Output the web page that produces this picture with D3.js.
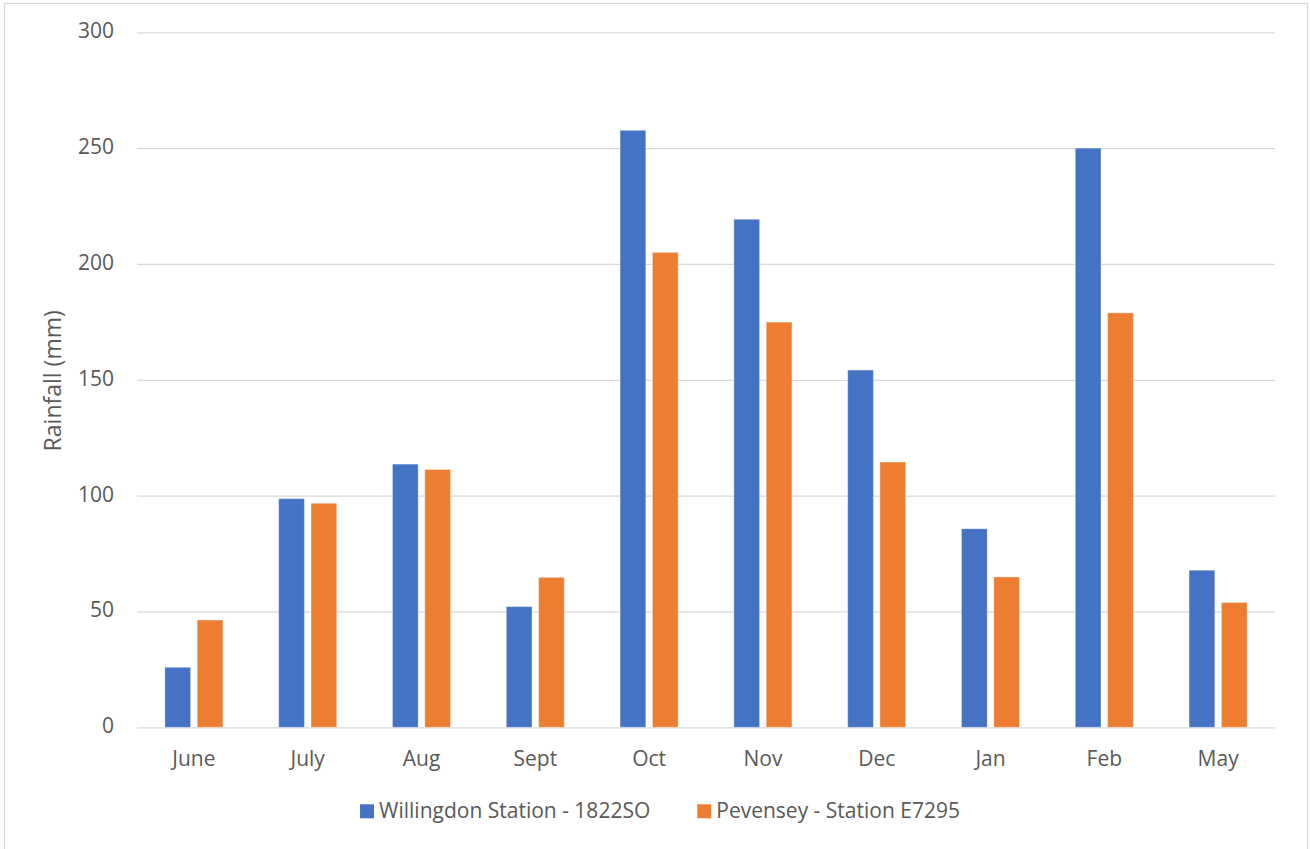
<!DOCTYPE html>
<html>
<head>
<meta charset="utf-8">
<script src="https://cdn.jsdelivr.net/npm/d3@7"></script>
<style>
  html, body { margin: 0; padding: 0; background: #fff; }
  svg { display: block; font-family: "Open Sans", sans-serif; }
</style>
</head>
<body>
<svg id="chart" width="1310" height="849"></svg>
<script>
// Monthly rainfall at two stations
const months = ["June", "July", "Aug", "Sept", "Oct", "Nov", "Dec", "Jan", "Feb", "May"];
const willingdon = [25.9, 98.7, 113.6, 52.1, 257.7, 219.3, 154.2, 85.7, 250.0, 67.8];
const pevensey   = [46.3, 96.7, 111.3, 64.7, 205.0, 174.9, 114.5, 64.9, 178.9, 53.9];
const seriesNames = ["Willingdon Station - 1822SO", "Pevensey - Station E7295"];
const seriesColors = ["#4472C4", "#ED7D31"];
const yTicks = [0, 50, 100, 150, 200, 250, 300];
const yTitle = "Rainfall (mm)";

const svg = d3.select("#chart");
const W = 1310, H = 849;
const plot = { left: 137, right: 1275, top: 32.3, bottom: 727.3 };
const textColor = "#595959";
const gridColor = "#d9d9d9";

// outer chart frame
svg.append("rect")
  .attr("x", 4.5).attr("y", 3.5)
  .attr("width", 1303).attr("height", H + 10)
  .attr("fill", "#fff").attr("stroke", gridColor).attr("stroke-width", 1.3);

const x = d3.scaleBand().domain(months).range([plot.left, plot.right]).paddingInner(0).paddingOuter(0);
const y = d3.scaleLinear().domain([0, 300]).range([plot.bottom, plot.top]);

// horizontal gridlines + value labels
const yAxis = d3.axisLeft(y).tickValues(yTicks).tickSize(-(plot.right - plot.left)).tickPadding(0);
const gy = svg.append("g").attr("transform", `translate(${plot.left},0)`).call(yAxis);
gy.select(".domain").remove();
gy.selectAll(".tick line").attr("stroke", gridColor).attr("stroke-width", 1.3);
gy.selectAll(".tick text")
  .attr("x", -23).attr("dy", "0.26em")
  .attr("fill", textColor)
  .style("font-size", "21px")
  .style("font-family", "'Open Sans', sans-serif");

// category labels
const xAxis = d3.axisBottom(x).tickSize(0).tickPadding(0);
const gx = svg.append("g").attr("transform", `translate(0,${plot.bottom})`).call(xAxis);
gx.select(".domain").remove();
gx.selectAll(".tick text")
  .attr("y", 0).attr("dy", 0)
  .attr("transform", "translate(0,38.7)")
  .attr("fill", textColor)
  .style("font-size", "21px")
  .style("font-family", "'Open Sans', sans-serif");

// clustered bars
const step = x.bandwidth();
const barW = step * 0.226;
const innerGap = step * 0.058;
const groupOffset = (step - (2 * barW + innerGap)) / 2;
const seriesData = [willingdon, pevensey];

seriesData.forEach((vals, si) => {
  svg.append("g").selectAll("rect")
    .data(vals)
    .join("rect")
    .attr("x", (d, i) => x(months[i]) + groupOffset + si * (barW + innerGap))
    .attr("y", d => y(d))
    .attr("width", barW)
    .attr("height", d => y(0) - y(d))
    .attr("fill", seriesColors[si])
    .attr("stroke", "rgba(255,255,255,0.35)")
    .attr("stroke-width", 1);
});

// axis title
svg.append("text")
  .attr("transform", `translate(61,${(plot.top + plot.bottom) / 2 + 1}) rotate(-90)`)
  .attr("text-anchor", "middle")
  .attr("fill", textColor)
  .style("font-size", "23px")
  .text(yTitle);

// legend
const legend = svg.append("g");
const legendItems = legend.selectAll("g").data(seriesNames).join("g");
legendItems.append("rect")
  .attr("width", 14).attr("height", 14)
  .attr("y", 804.3)
  .attr("fill", (d, i) => seriesColors[i]);
legendItems.append("text")
  .attr("x", 19).attr("y", 818)
  .attr("fill", textColor)
  .style("font-size", "21px")
  .text(d => d);

// lay out legend entries side by side, centred in the frame
let cursor = 0;
const offsets = [];
legendItems.each(function () {
  const w = this.getBBox().width;
  offsets.push(cursor);
  cursor += w + 47;
});
const totalW = cursor - 47;
const startX = 660 - totalW / 2;
legendItems.attr("transform", (d, i) => `translate(${startX + offsets[i]},0)`);
</script>
</body>
</html>
